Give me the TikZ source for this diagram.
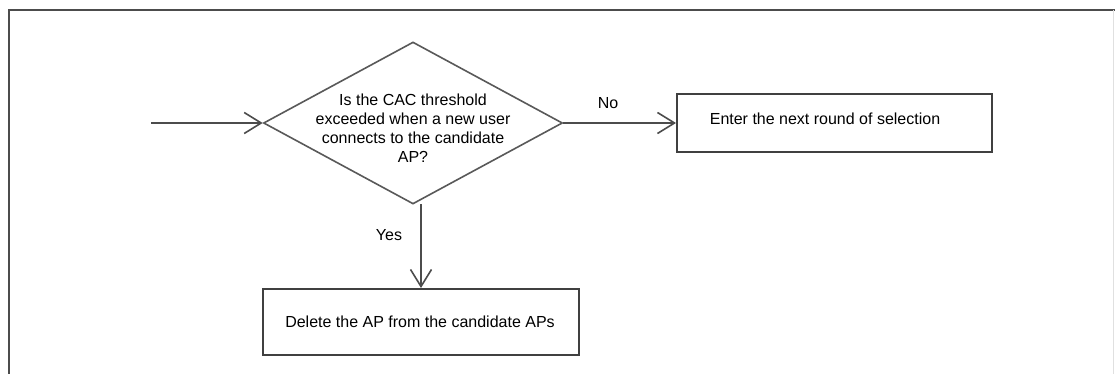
\documentclass[tikz,border=0pt]{standalone}
\usepackage{fontspec}
\setmainfont{Liberation Sans}
\usetikzlibrary{shapes.geometric,arrows.meta}
\begin{document}
\begin{tikzpicture}[x=1pt,y=-1pt,
  every node/.style={font=\fontsize{16pt}{19pt}\selectfont},
  frameline/.style={line width=2pt,draw=black!70},
  boxstyle/.style={draw=black!75,line width=2pt,rectangle,inner sep=0pt},
  diastyle/.style={draw=black!65,line width=1.6pt,diamond,inner sep=0pt,minimum width=299pt,minimum height=162pt},
  conn/.style={draw=black!70,line width=1.8pt,-{Straight Barb[length=17pt,width=21pt,line width=1.6pt]}},
  lbl/.style={inner sep=0pt}]
\useasboundingbox (0,0) rectangle (1115,374);
\fill[white] (0,0) rectangle (1115,374);
% frame
\coordinate (fbl) at (9,374);
\coordinate (ftl) at (9,10);
\coordinate (ftr) at (1115,10);
\coordinate (frt) at (1113.5,10);
\coordinate (frb) at (1113.5,374);
\draw[frameline] (fbl) -- (ftl) -- (ftr);
\draw[draw=black!12,line width=1pt] (frt) -- (frb);
% nodes
\node[diastyle] (dia) at (413,123) {};
\node[lbl,align=center] (diatext) at (413,128) {Is the CAC threshold\\exceeded when a new user\\connects to the candidate\\AP?};
\node[boxstyle,minimum width=315pt,minimum height=58pt] (next) at (834.5,123) {};
\node[lbl] (nexttext) at (825,119) {Enter the next round of selection};
\node[boxstyle,minimum width=316pt,minimum height=66pt] (del) at (421,322) {};
\node[lbl] (deltext) at (420,322) {Delete the AP from the candidate APs};
% connectors
\coordinate (start) at (151,123);
\draw[conn] (start) -- (dia.west);
\draw[conn] (dia.east) -- (next.west);
\coordinate (ytop) at (421,204);
\draw[conn] (ytop) -- (ytop |- del.north);
% labels
\node[lbl] (no) at (608,103) {No};
\node[lbl] (yes) at (389,235) {Yes};
\end{tikzpicture}
\end{document}
